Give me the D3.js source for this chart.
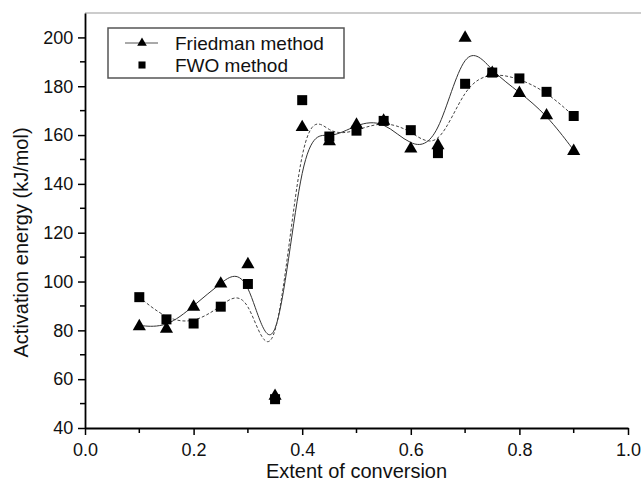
<!DOCTYPE html>
<html>
<head>
<meta charset="utf-8">
<script src="https://cdn.jsdelivr.net/npm/d3@7"></script>
<style>
  body { margin: 0; background: #fff; }
  svg { display: block; font-family: "Liberation Sans", Arial, sans-serif; }
</style>
</head>
<body>
<div class="graph"></div>
<script>
// extent of conversion
const conversion = [0.1, 0.15, 0.2, 0.25, 0.3, 0.35, 0.4, 0.45, 0.5, 0.55, 0.6, 0.65, 0.7, 0.75, 0.8, 0.85, 0.9];
// activation energy, kJ/mol
const friedman = [82, 81, 90, 99.5, 107.4, 53.5, 163.6, 157.8, 164.6, 166.2, 154.8, 156.2, 200.2, 185.8, 177.6, 168.4, 153.8];
const fwo = [93.6, 84.5, 82.8, 89.7, 99, 51.8, 174.3, 159.4, 161.8, 165.8, 162, 152.6, 181, 185.6, 183.2, 177.7, 167.8];
const xTicks = [0, 0.2, 0.4, 0.6, 0.8, 1.0];
const yTicks = [40, 60, 80, 100, 120, 140, 160, 180, 200];
const seriesNames = ["Friedman method", "FWO method"];

const width = 641, height = 487;
const margin = { top: 13, right: 13, bottom: 59, left: 85 };

const svg = d3.select(".graph")
  .append("svg")
  .attr("width", width)
  .attr("height", height)
  .attr("viewBox", `0 0 ${width} ${height}`);

const xScale = d3.scaleLinear()
  .domain([0, 1])
  .range([margin.left, width - margin.right]);
const yScale = d3.scaleLinear()
  .domain([40, 210])
  .range([height - margin.bottom, margin.top]);

//top frame line (right side is cut off)
svg.append("line")
  .attr("x1", margin.left).attr("x2", width)
  .attr("y1", yScale(210)).attr("y2", yScale(210))
  .attr("stroke", "#999").attr("stroke-width", 1.2);

//minor ticks
const xMinor = d3.range(0.1, 1, 0.2);
const yMinor = d3.range(50, 210, 20);

const xAxisGroup = svg.append("g")
  .attr("transform", `translate(0, ${yScale(40)})`)
  .call(d3.axisBottom(xScale).tickValues(xTicks).tickFormat(d3.format(".1f")).tickSize(7).tickSizeOuter(0));
xAxisGroup.selectAll(".minor")
  .data(xMinor)
  .join("line")
  .attr("class", "minor")
  .attr("x1", d => xScale(d)).attr("x2", d => xScale(d))
  .attr("y1", 0).attr("y2", 5)
  .attr("stroke", "#000").attr("stroke-width", 1.5);

const yAxisGroup = svg.append("g")
  .attr("transform", `translate(${margin.left}, 0)`)
  .call(d3.axisLeft(yScale).tickValues(yTicks).tickSize(7).tickSizeOuter(0));
yAxisGroup.selectAll(".minor")
  .data(yMinor)
  .join("line")
  .attr("class", "minor")
  .attr("y1", d => yScale(d)).attr("y2", d => yScale(d))
  .attr("x1", 0).attr("x2", -5)
  .attr("stroke", "#000").attr("stroke-width", 1.5);

[xAxisGroup, yAxisGroup].forEach(g => {
  g.select(".domain").attr("stroke-width", 1.8);
  g.selectAll(".tick line").attr("stroke-width", 1.5);
  g.selectAll(".tick text")
    .attr("font-size", 18)
    .attr("font-family", "Liberation Sans, Arial, sans-serif")
    .attr("fill", "#111");
});
xAxisGroup.selectAll(".tick text").attr("dy", "1.0em");
yAxisGroup.selectAll(".tick text").attr("dx", "-0.1em");

//axis labels
svg.append("text")
  .attr("x", xScale(0.5))
  .attr("y", 478)
  .attr("text-anchor", "middle")
  .attr("font-size", 20)
  .attr("fill", "#111")
  .text("Extent of conversion");

svg.append("text")
  .attr("transform", `translate(28, ${yScale(116)}) rotate(-90)`)
  .attr("text-anchor", "middle")
  .attr("font-size", 20)
  .attr("fill", "#111")
  .text("Activation energy (kJ/mol)");

//smoothed lines (B-spline through control points)
const line = d3.line()
  .x(d => xScale(d[0]))
  .y(d => yScale(d[1]))
  .curve(d3.curveBasis);

svg.append("path")
  .attr("d", line(d3.zip(conversion, friedman)))
  .attr("fill", "none")
  .attr("stroke", "#333")
  .attr("stroke-width", 1);

svg.append("path")
  .attr("d", line(d3.zip(conversion, fwo)))
  .attr("fill", "none")
  .attr("stroke", "#444")
  .attr("stroke-width", 1)
  .attr("stroke-dasharray", "3,2");

//markers
const triangle = d3.symbol().type(d3.symbolTriangle).size(75);
const square = d3.symbol().type(d3.symbolSquare).size(100);

svg.append("g").selectAll("path")
  .data(d3.zip(conversion, fwo))
  .join("path")
  .attr("d", square)
  .attr("transform", d => `translate(${xScale(d[0])}, ${yScale(d[1])})`)
  .attr("fill", "#000");

svg.append("g").selectAll("path")
  .data(d3.zip(conversion, friedman))
  .join("path")
  .attr("d", triangle)
  .attr("transform", d => `translate(${xScale(d[0])}, ${yScale(d[1]) + 1})`)
  .attr("fill", "#000");

//legend
const legend = svg.append("g").attr("transform", "translate(108, 28)");
legend.append("rect")
  .attr("width", 236).attr("height", 50)
  .attr("fill", "#fff")
  .attr("stroke", "#555").attr("stroke-width", 1.5);

legend.append("line")
  .attr("x1", 17).attr("x2", 50)
  .attr("y1", 15).attr("y2", 15)
  .attr("stroke", "#555").attr("stroke-width", 1);
legend.append("path")
  .attr("d", d3.symbol().type(d3.symbolTriangle).size(40))
  .attr("transform", "translate(34, 15)")
  .attr("fill", "#000");
legend.append("path")
  .attr("d", d3.symbol().type(d3.symbolSquare).size(50))
  .attr("transform", "translate(34, 37)")
  .attr("fill", "#000");

legend.selectAll(".label")
  .data(seriesNames)
  .join("text")
  .attr("class", "label")
  .attr("x", 67)
  .attr("y", (d, i) => 15 + i * 22)
  .attr("dy", "0.36em")
  .attr("font-size", 19)
  .attr("fill", "#111")
  .text(d => d);
</script>
</body>
</html>
